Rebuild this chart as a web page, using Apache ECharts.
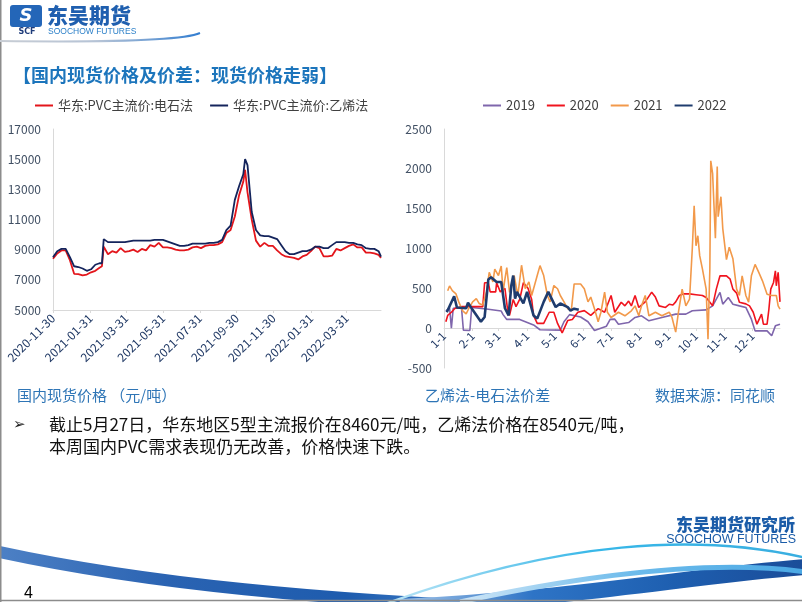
<!DOCTYPE html>
<html>
<head>
<meta charset="utf-8">
<script src="https://cdn.jsdelivr.net/npm/echarts@6/dist/echarts.min.js"></script>
<style>
  html, body { margin: 0; padding: 0; background: #fff; }
  #chart { width: 802px; height: 602px; }
</style>
</head>
<body>
<div id="chart"></div>
<script>
// ---------- Left chart: spot prices (元/吨) ----------
const priceTickLabels = ['2020-11-30','2021-01-31','2021-03-31','2021-05-31','2021-07-31','2021-09-30','2021-11-30','2022-01-31','2022-03-31'];
const priceDates = ['2020-11-30','2020-12-07','2020-12-14','2020-12-21','2020-12-28','2021-01-04','2021-01-11','2021-01-18','2021-01-25','2021-02-01','2021-02-08','2021-02-15','2021-02-19','2021-02-22','2021-03-01','2021-03-08','2021-03-15','2021-03-22','2021-03-29','2021-04-05','2021-04-12','2021-04-19','2021-04-26','2021-05-03','2021-05-10','2021-05-17','2021-05-24','2021-05-31','2021-06-07','2021-06-14','2021-06-21','2021-06-28','2021-07-05','2021-07-12','2021-07-19','2021-07-26','2021-08-02','2021-08-09','2021-08-16','2021-08-23','2021-08-30','2021-09-06','2021-09-13','2021-09-20','2021-09-27','2021-10-04','2021-10-11','2021-10-14','2021-10-18','2021-10-25','2021-11-01','2021-11-08','2021-11-15','2021-11-22','2021-11-29','2021-12-06','2021-12-13','2021-12-20','2021-12-27','2022-01-03','2022-01-10','2022-01-17','2022-01-24','2022-01-31','2022-02-07','2022-02-14','2022-02-21','2022-02-28','2022-03-07','2022-03-14','2022-03-21','2022-03-28','2022-04-04','2022-04-11','2022-04-18','2022-04-25','2022-05-02','2022-05-09','2022-05-16','2022-05-23','2022-05-27'];
const ethyleneValues = [8500,8900,9050,9050,8500,7900,7850,7750,7600,7700,8000,8100,8100,9700,9500,9500,9500,9500,9500,9550,9600,9600,9600,9600,9600,9650,9650,9650,9550,9450,9350,9250,9250,9300,9400,9400,9400,9400,9450,9450,9500,9650,10300,10600,12300,13200,14000,15000,14600,11500,10300,9950,9900,9900,9800,9700,9300,8900,8700,8700,8800,8900,8900,9000,9200,9200,9100,9100,9300,9500,9500,9500,9450,9450,9350,9300,9100,9050,9050,8900,8540];
const carbideValues = [8400,8750,8950,8950,8300,7400,7380,7300,7350,7500,7600,7800,7900,9200,8700,8900,8800,9100,8850,8900,9000,8850,9050,8950,9300,9200,9450,9150,9150,9100,9000,8950,8950,9000,9150,9200,9100,9250,9300,9300,9350,9500,10100,10300,11200,12600,13500,14300,12800,11000,9600,9200,9450,9250,9250,8950,8700,8550,8500,8450,8350,8550,8650,8900,9200,9100,8550,8550,8600,9050,8950,9100,9250,9350,9150,9150,8800,8800,8750,8650,8460];

// ---------- Right chart: ethylene - carbide spread by year ----------
const monthTickLabels = ['1-1','2-1','3-1','4-1','5-1','6-1','7-1','8-1','9-1','10-1','11-1','12-1'];
const spread2019 = [['1-3',215],['1-7',260],['1-9',0],['1-11',250],['1-20',250],['1-22',-25],['1-29',-30],['1-31',260],['2-16',240],['3-4',215],['3-6',170],['3-10',110],['3-24',110],['4-8',40],['4-15',-20],['5-7',-25],['5-11',80],['5-17',170],['5-29',140],['6-6',80],['6-13',-30],['6-26',25],['6-30',110],['7-5',113],['7-9',50],['7-20',71],['7-27',134],['8-3',155],['8-11',92],['8-25',134],['9-9',176],['9-20',176],['9-27',218],['10-12',230],['10-19',280],['10-27',448],['10-30',301],['11-5',385],['11-10',301],['11-17',280],['11-24',260],['11-30',113],['12-4',-34],['12-17',-34],['12-22',-96],['12-26',29],['12-31',50]];
const spread2020 = [['1-3',80],['1-5',160],['1-9',200],['1-13',250],['1-20',270],['2-12',270],['2-14',570],['2-18',570],['2-20',455],['2-26',455],['2-27',570],['3-3',455],['3-8',500],['3-11',220],['3-13',160],['3-17',360],['3-20',270],['3-24',360],['3-28',570],['4-2',500],['4-6',360],['4-8',160],['4-12',60],['4-19',60],['4-25',200],['4-30',200],['5-4',60],['5-9',-60],['5-11',-80],['5-15',95],['5-20',110],['5-26',200],['6-2',220],['6-9',160],['6-17',245],['6-24',200],['7-1',410],['7-5',200],['7-12',326],['7-16',280],['7-20',340],['7-23',280],['7-27',410],['7-31',260],['8-7',330],['8-14',452],['8-18',390],['8-22',280],['8-29',260],['9-2',300],['9-6',290],['9-9',330],['9-13',410],['9-17',430],['9-24',430],['10-1',420],['10-8',410],['10-12',385],['10-19',280],['10-23',490],['10-27',657],['11-3',657],['11-7',615],['11-10',490],['11-14',440],['11-17',326],['11-24',305],['11-28',280],['12-2',200],['12-6',50],['12-11',176],['12-13',50],['12-17',50],['12-19',240],['12-21',490],['12-24',574],['12-26',720],['12-27',532],['12-29',700],['12-30',720],['12-31',330]];
const spread2021 = [['1-5',470],['1-7',530],['1-10',470],['1-14',430],['1-17',330],['1-21',220],['1-25',180],['1-28',250],['2-1',330],['2-5',370],['2-8',310],['2-12',290],['2-16',455],['2-19',700],['2-23',580],['2-25',740],['3-1',660],['3-4',780],['3-6',455],['3-8',615],['3-10',760],['3-13',450],['3-18',660],['3-22',410],['3-26',790],['3-30',495],['4-3',580],['4-6',410],['4-12',660],['4-15',785],['4-19',660],['4-23',410],['4-26',330],['4-30',535],['5-4',495],['5-7',410],['5-11',330],['5-15',245],['5-19',230],['5-22',555],['5-29',555],['6-2',495],['6-6',330],['6-9',390],['6-13',245],['6-17',80],['6-20',200],['6-24',452],['6-27',200],['7-1',134],['7-9',200],['7-16',155],['7-23',218],['7-27',280],['7-31',155],['8-3',280],['8-7',410],['8-11',155],['8-18',200],['8-25',155],['9-2',200],['9-5',134],['9-9',-50],['9-12',200],['9-16',490],['9-20',280],['9-24',364],['9-27',1000],['9-29',1536],['10-1',1034],['10-3',1160],['10-5',910],['10-8',740],['10-12',490],['10-14',-140],['10-16',740],['10-17',2100],['10-19',1940],['10-21',1940],['10-22',1130],['10-24',2030],['10-25',1400],['10-28',1650],['10-30',1250],['11-3',860],['11-6',1016],['11-10',870],['11-14',490],['11-17',410],['11-20',657],['11-24',410],['11-27',326],['11-30',657],['12-4',800],['12-8',700],['12-12',594],['12-17',427],['12-22',410],['12-27',410],['12-29',280],['12-31',240]];
const spread2022 = [['1-4',200],['1-12',400],['1-15',260],['1-25',250],['1-27',320],['2-1',230],['2-10',80],['2-14',140],['2-18',610],['2-21',640],['2-27',580],['3-4',580],['3-8',250],['3-12',160],['3-15',540],['3-17',660],['3-19',370],['3-21',455],['3-28',310],['4-1',455],['4-8',160],['4-12',120],['4-19',330],['4-24',455],['5-2',265],['5-7',310],['5-15',265],['5-18',220],['5-22',245],['5-27',230]];

// ---------- axis categories ----------
const dateCategories = [];
for (let t = Date.UTC(2020, 10, 30); t <= Date.UTC(2022, 4, 27); t += 86400000) {
  dateCategories.push(new Date(t).toISOString().slice(0, 10));
}
const monthLengths = [31,28,31,30,31,30,31,31,30,31,30,31];
const dayCategories = [];
monthLengths.forEach((n, m) => { for (let d = 1; d <= n; d++) dayCategories.push((m + 1) + '-' + d); });

const CJK = '"Noto Sans CJK SC", "Noto Sans", sans-serif';
const axisGray = '#D9D9D9';
const yLabelColor = '#404F63';
const xLabelColor = '#1F3864';

function txt(x, y, text, size, color, extra) {
  return {
    type: 'text', x: x, y: y, silent: true,
    style: Object.assign({
      text: text, fontSize: size, fontFamily: CJK, fill: color,
      align: 'left', verticalAlign: 'middle', textAlign: 'left', textVerticalAlign: 'middle'
    }, extra || {})
  };
}
function curve(x1, y1, cpx1, cpy1, cpx2, cpy2, x2, y2, width, stroke) {
  return {
    type: 'bezierCurve', silent: true,
    shape: { x1: x1, y1: y1, cpx1: cpx1, cpy1: cpy1, cpx2: cpx2, cpy2: cpy2, x2: x2, y2: y2 },
    style: { fill: 'none', lineWidth: width, stroke: stroke }
  };
}
function hgrad(stops) {
  return { type: 'linear', x: 0, y: 0, x2: 1, y2: 0, colorStops: stops.map((c, i) => ({ offset: i / (stops.length - 1), color: c })) };
}

const chart = echarts.init(document.getElementById('chart'), null, { renderer: 'canvas' });
const option = {
  animation: false,
  backgroundColor: '#ffffff',
  textStyle: { fontFamily: CJK },
  legend: [
    {
      data: ['华东:PVC主流价:电石法', '华东:PVC主流价:乙烯法'],
      left: 35, top: 99, padding: 0, icon: 'rect', itemWidth: 18, itemHeight: 2, itemGap: 17,
      textStyle: { fontSize: 13, color: '#404040', fontFamily: CJK }
    },
    {
      data: ['2019', '2020', '2021', '2022'],
      left: 483, top: 99, padding: 0, icon: 'rect', itemWidth: 18, itemHeight: 2, itemGap: 12,
      textStyle: { fontSize: 13, color: '#404040', fontFamily: CJK }
    }
  ],
  grid: [
    { left: 53, top: 129, width: 328, height: 181 },
    { left: 444, top: 129, width: 336, height: 239 }
  ],
  xAxis: [
    {
      type: 'category', gridIndex: 0, data: dateCategories, boundaryGap: false,
      axisLine: { lineStyle: { color: axisGray } },
      axisTick: { show: true, length: 3, interval: (i, v) => priceTickLabels.includes(v), lineStyle: { color: axisGray } },
      axisLabel: { interval: (i, v) => priceTickLabels.includes(v), rotate: 45, fontSize: 12, color: xLabelColor, margin: 6 }
    },
    {
      // axis line sits on the zero value (grid bottom is -500)
      type: 'category', gridIndex: 1, data: dayCategories, boundaryGap: false, offset: -40,
      axisLine: { onZero: false, lineStyle: { color: axisGray } },
      axisTick: { show: true, length: 3, interval: (i, v) => monthTickLabels.includes(v), lineStyle: { color: axisGray } },
      axisLabel: { interval: (i, v) => monthTickLabels.includes(v), rotate: 45, fontSize: 11.5, color: xLabelColor, margin: 6 }
    }
  ],
  yAxis: [
    {
      type: 'value', gridIndex: 0, min: 5000, max: 17000, interval: 2000,
      axisLine: { show: true, lineStyle: { color: axisGray } },
      axisTick: { show: false }, splitLine: { show: false },
      axisLabel: { fontSize: 12, color: yLabelColor, margin: 12, formatter: v => String(v) }
    },
    {
      type: 'value', gridIndex: 1, min: -500, max: 2500, interval: 500,
      axisLine: { show: true, lineStyle: { color: axisGray } },
      axisTick: { show: false }, splitLine: { show: false },
      axisLabel: { fontSize: 12, color: yLabelColor, margin: 12, formatter: v => String(v) }
    }
  ],
  series: [
    {
      name: '华东:PVC主流价:电石法', type: 'line', xAxisIndex: 0, yAxisIndex: 0,
      data: priceDates.map((d, i) => [d, carbideValues[i]]),
      symbol: 'none', color: '#E3151B', lineStyle: { width: 1.8, color: '#E3151B' }
    },
    {
      name: '华东:PVC主流价:乙烯法', type: 'line', xAxisIndex: 0, yAxisIndex: 0,
      data: priceDates.map((d, i) => [d, ethyleneValues[i]]),
      symbol: 'none', color: '#14245C', lineStyle: { width: 1.8, color: '#14245C' }
    },
    {
      name: '2019', type: 'line', xAxisIndex: 1, yAxisIndex: 1, data: spread2019,
      symbol: 'none', color: '#7F66AC', lineStyle: { width: 1.6, color: '#7F66AC' }
    },
    {
      name: '2020', type: 'line', xAxisIndex: 1, yAxisIndex: 1, data: spread2020,
      symbol: 'none', color: '#F0141E', lineStyle: { width: 1.6, color: '#F0141E' }
    },
    {
      name: '2021', type: 'line', xAxisIndex: 1, yAxisIndex: 1, data: spread2021,
      symbol: 'none', color: '#F2994A', lineStyle: { width: 1.6, color: '#F2994A' }
    },
    {
      name: '2022', type: 'line', xAxisIndex: 1, yAxisIndex: 1, data: spread2022,
      symbol: 'none', color: '#1F3C6E', lineStyle: { width: 2.6, color: '#1F3C6E' }
    }
  ],
  graphic: [
    // bottom swooshes (drawn first, behind texts)
    curve(-5, 551, 150, 585, 330, 600, 520, 608, 12, hgrad(['#4F82C6', '#2A63B2', '#1E5CAE', '#4E8FD6'])),
    curve(400, 607, 560, 600, 700, 575, 806, 567, 16, hgrad(['#A8C8EA', '#2E74C6', '#1E5FB0', '#1A4B97'])),
    curve(460, 602, 600, 572, 720, 560, 806, 572, 5, hgrad(['#CFE6F7', '#6DBBEB', '#4AA8E4'])),
    curve(385, 604, 560, 540, 700, 533, 806, 558, 2.5, hgrad(['#BFE6F6', '#37B7E8', '#3AAEE0'])),
    // slide frame (left & bottom edge)
    { type: 'line', silent: true, shape: { x1: 0.75, y1: 0, x2: 0.75, y2: 602 }, style: { stroke: '#8C8C8C', lineWidth: 1.5 } },
    { type: 'line', silent: true, shape: { x1: 0, y1: 600.5, x2: 802, y2: 600.5 }, style: { stroke: '#8C8C8C', lineWidth: 1.5 } },
    // top-left logo
    { type: 'rect', silent: true, shape: { x: 10, y: 5, width: 32, height: 22, r: 3 }, style: { fill: '#2466B8' } },
    txt(26, 16, 'S', 18, '#ffffff', { align: 'center', textAlign: 'center', fontWeight: 'bold', fontStyle: 'italic', fontFamily: 'DejaVu Sans' }),
    txt(27, 32, 'SCF', 8, '#1F3C7A', { align: 'center', textAlign: 'center', fontWeight: 'bold', fontFamily: 'DejaVu Sans' }),
    txt(47, 15, '东吴期货', 21, '#1F5FAF', { fontWeight: 900 }),
    txt(48, 31.5, 'SOOCHOW FUTURES', 8.5, '#2A7FC8', { fontFamily: 'Liberation Sans' }),
    curve(0, 41, 80, 42, 180, 42, 200, 33, 2, hgrad(['#C8CDD4', '#B5C3D6', '#2E7BD0'])),
    // title
    txt(13, 75, '【国内现货价格及价差：现货价格走弱】', 18, '#1C75BC', { fontWeight: 'bold' }),
    // chart captions
    txt(17, 395, '国内现货价格 （元/吨）', 15, '#2E75B6'),
    txt(425, 395, '乙烯法-电石法价差', 15, '#2E75B6'),
    txt(655, 395, '数据来源：同花顺', 15, '#2E75B6'),
    // bullet text
    txt(13, 425, '➢', 15, '#222222', { fontFamily: 'DejaVu Sans' }),
    txt(49, 425, '截止5月27日，华东地区5型主流报价在8460元/吨，乙烯法价格在8540元/吨，', 17, '#111111'),
    txt(49, 447, '本周国内PVC需求表现仍无改善，价格快速下跌。', 17, '#111111'),
    // bottom-right logo
    txt(795, 525, '东吴期货研究所', 17, '#1B5CA8', { align: 'right', textAlign: 'right', fontWeight: 900 }),
    txt(796, 540, 'SOOCHOW FUTURES', 12.5, '#1B5CA8', { align: 'right', textAlign: 'right', fontFamily: 'Liberation Sans' }),
    // page number
    txt(24, 594, '4', 16, '#000000', { fontFamily: 'Liberation Sans' })
  ]
};
chart.setOption(option);
</script>
</body>
</html>
